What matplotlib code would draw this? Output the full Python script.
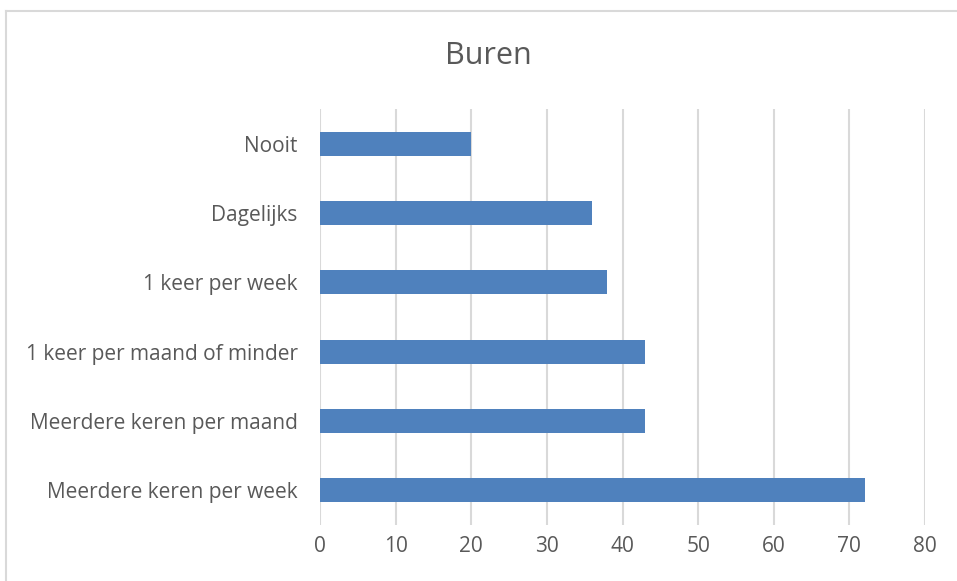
import matplotlib.pyplot as plt
from matplotlib.lines import Line2D

plt.rcParams['font.family'] = ['Open Sans', 'DejaVu Sans']

categories = ["Nooit", "Dagelijks", "1 keer per week", "1 keer per maand of minder",
              "Meerdere keren per maand", "Meerdere keren per week"]
values = [20, 36, 38, 43, 43, 72]
xticks = [0, 10, 20, 30, 40, 50, 60, 70, 80]

text_col = "#595959"
bar_col = "#4F81BD"
grid_col = "#D9D9D9"

fig = plt.figure(figsize=(9.57, 5.81), dpi=100)
ax = fig.add_axes([0.3344, 0.0964, 0.6322, 0.7160])

ypos = range(len(categories))
ax.barh(ypos, values, height=0.35, color=bar_col, zorder=3)
ax.set_yticks(list(ypos))
ax.set_yticklabels(categories)
ax.set_ylim(len(categories) - 0.5, -0.5)
ax.set_xlim(0, 80)
ax.set_xticks(xticks)
ax.xaxis.grid(True, color=grid_col, linewidth=1.5, zorder=0)
for s in ax.spines.values():
    s.set_visible(False)
ax.tick_params(axis='both', length=0, colors=text_col, labelsize=15)
ax.tick_params(axis='x', pad=8)
ax.tick_params(axis='y', pad=16)

fig.text(0.51, 0.903, "Buren", ha='center', va='center', fontsize=22, color=text_col)

# chart border (screenshot crop: only top and left edges visible)
fig.add_artist(Line2D([6 / 957, 6 / 957], [0, 1 - 11 / 581], color=grid_col, lw=1.5))
fig.add_artist(Line2D([6 / 957, 1], [1 - 11 / 581, 1 - 11 / 581], color=grid_col, lw=1.5))

fig.savefig("out.png", dpi=100)
